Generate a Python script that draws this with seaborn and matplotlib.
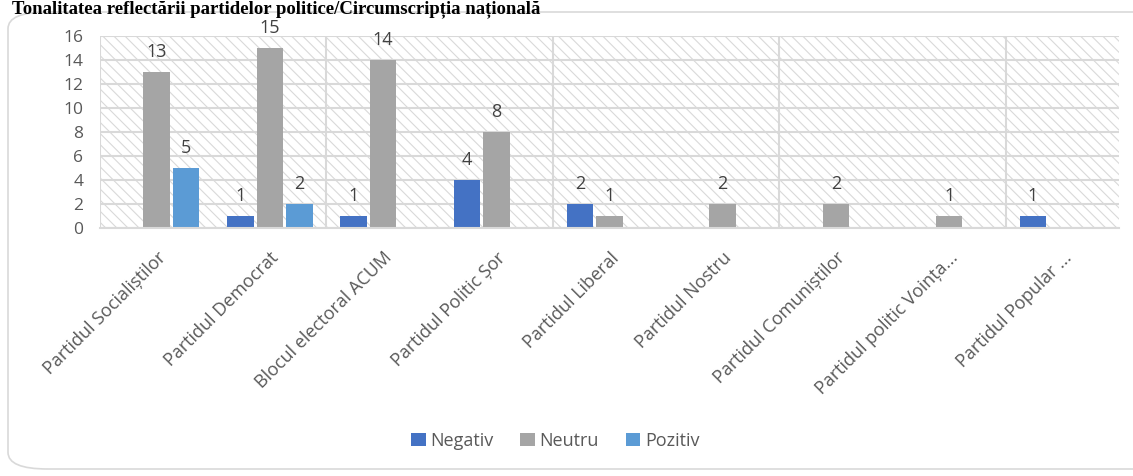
import numpy as np
import pandas as pd
import matplotlib
matplotlib.use("Agg")
import matplotlib.pyplot as plt
from matplotlib.patches import Rectangle, FancyBboxPatch
import seaborn as sns

# data
parties = [
    "Partidul Socialiștilor",
    "Partidul Democrat",
    "Blocul electoral ACUM",
    "Partidul Politic Șor",
    "Partidul Liberal",
    "Partidul Nostru",
    "Partidul Comuniștilor",
    "Partidul politic Voința...",
    "Partidul Popular ...",
]
negativ = [0, 1, 1, 4, 2, 0, 0, 0, 1]
neutru = [13, 15, 14, 8, 1, 2, 2, 1, 0]
pozitiv = [5, 2, 0, 0, 0, 0, 0, 0, 0]
series_names = ["Negativ", "Neutru", "Pozitiv"]
colors = ["#4472C4", "#A5A5A5", "#5B9BD5"]
title = "Tonalitatea reflectării partidelor politice/Circumscripția națională"

df = pd.DataFrame({
    "party": parties * 3,
    "value": negativ + neutru + pozitiv,
    "ton": sum([[s] * len(parties) for s in series_names], []),
})

sns.set_theme(style="white")
plt.rcParams["font.family"] = ["Open Sans", "DejaVu Sans"]
plt.rcParams["hatch.linewidth"] = 0.8
plt.rcParams["hatch.color"] = "#D9D9D9"

fig = plt.figure(figsize=(11.33, 4.76), dpi=100)
ax = fig.add_axes([0.0883, 0.521, 0.8993, 0.403])

# chart border with rounded corners
border = FancyBboxPatch((8 / 1133, 7 / 476), 1.2, 457 / 476,
                        boxstyle="round,pad=0,rounding_size=0.035",
                        transform=fig.transFigure, facecolor="none",
                        edgecolor="#D9D9D9", linewidth=1.2, zorder=0)
fig.patches.append(border)

# hatched plot area background
ax.add_patch(Rectangle((0, 0), 1, 1, transform=ax.transAxes, facecolor="white",
                       hatch="\\\\\\", edgecolor="#D9D9D9", linewidth=0, zorder=0.1))

sns.barplot(data=df, x="party", y="value", hue="ton", palette=colors,
            hue_order=series_names, width=0.78, gap=0.1, saturation=1, ax=ax,
            edgecolor="none", zorder=2, legend=True)

ax.set_ylim(0, 16)
ax.set_yticks(np.arange(0, 17, 2))
ax.set_xlim(-0.5, len(parties) - 0.5)
ax.set_axisbelow(True)
ax.yaxis.grid(True, color="#D9D9D9", linewidth=1.5, zorder=0.5)
for b in np.arange(-0.5, len(parties), 2):
    ax.axvline(b, color="#D9D9D9", linewidth=1.5, zorder=0.5)

for s in ["top", "right", "left"]:
    ax.spines[s].set_visible(False)
ax.spines["bottom"].set_color("#D9D9D9")
ax.spines["bottom"].set_linewidth(1.5)
ax.set_xlabel("")
ax.set_ylabel("")
ax.tick_params(axis="both", length=0, colors="#595959", labelsize=12.5)
ax.tick_params(axis="y", pad=12)
ax.tick_params(axis="x", pad=15)
ax.set_xticks(range(len(parties)))
ax.set_xticklabels(parties, rotation=45, ha="right", va="top",
                   rotation_mode="anchor", color="#595959", fontsize=13)

for cont in ax.containers:
    labels = [f"{int(v)}" if v > 0 else "" for v in cont.datavalues]
    ax.bar_label(cont, labels=labels, padding=8, color="#404040", fontsize=13)

handles, labels = ax.get_legend_handles_labels()
ax.legend_.remove()
fig.legend(handles, labels, loc="center", bbox_to_anchor=(0.49, 0.074), ncol=3,
           frameon=False, fontsize=13, handlelength=0.8, handleheight=0.8,
           handletextpad=0.25, columnspacing=1.5, labelcolor="#595959")

# the title sits at the very top edge, just above the chart border
fig.text(12 / 1133, 1 - 13.5 / 476, title, ha="left", va="baseline",
         fontsize=13.5, fontweight="bold", family=["Liberation Serif", "DejaVu Serif"],
         color="black", zorder=3)

fig.savefig("out.png", dpi=100)
